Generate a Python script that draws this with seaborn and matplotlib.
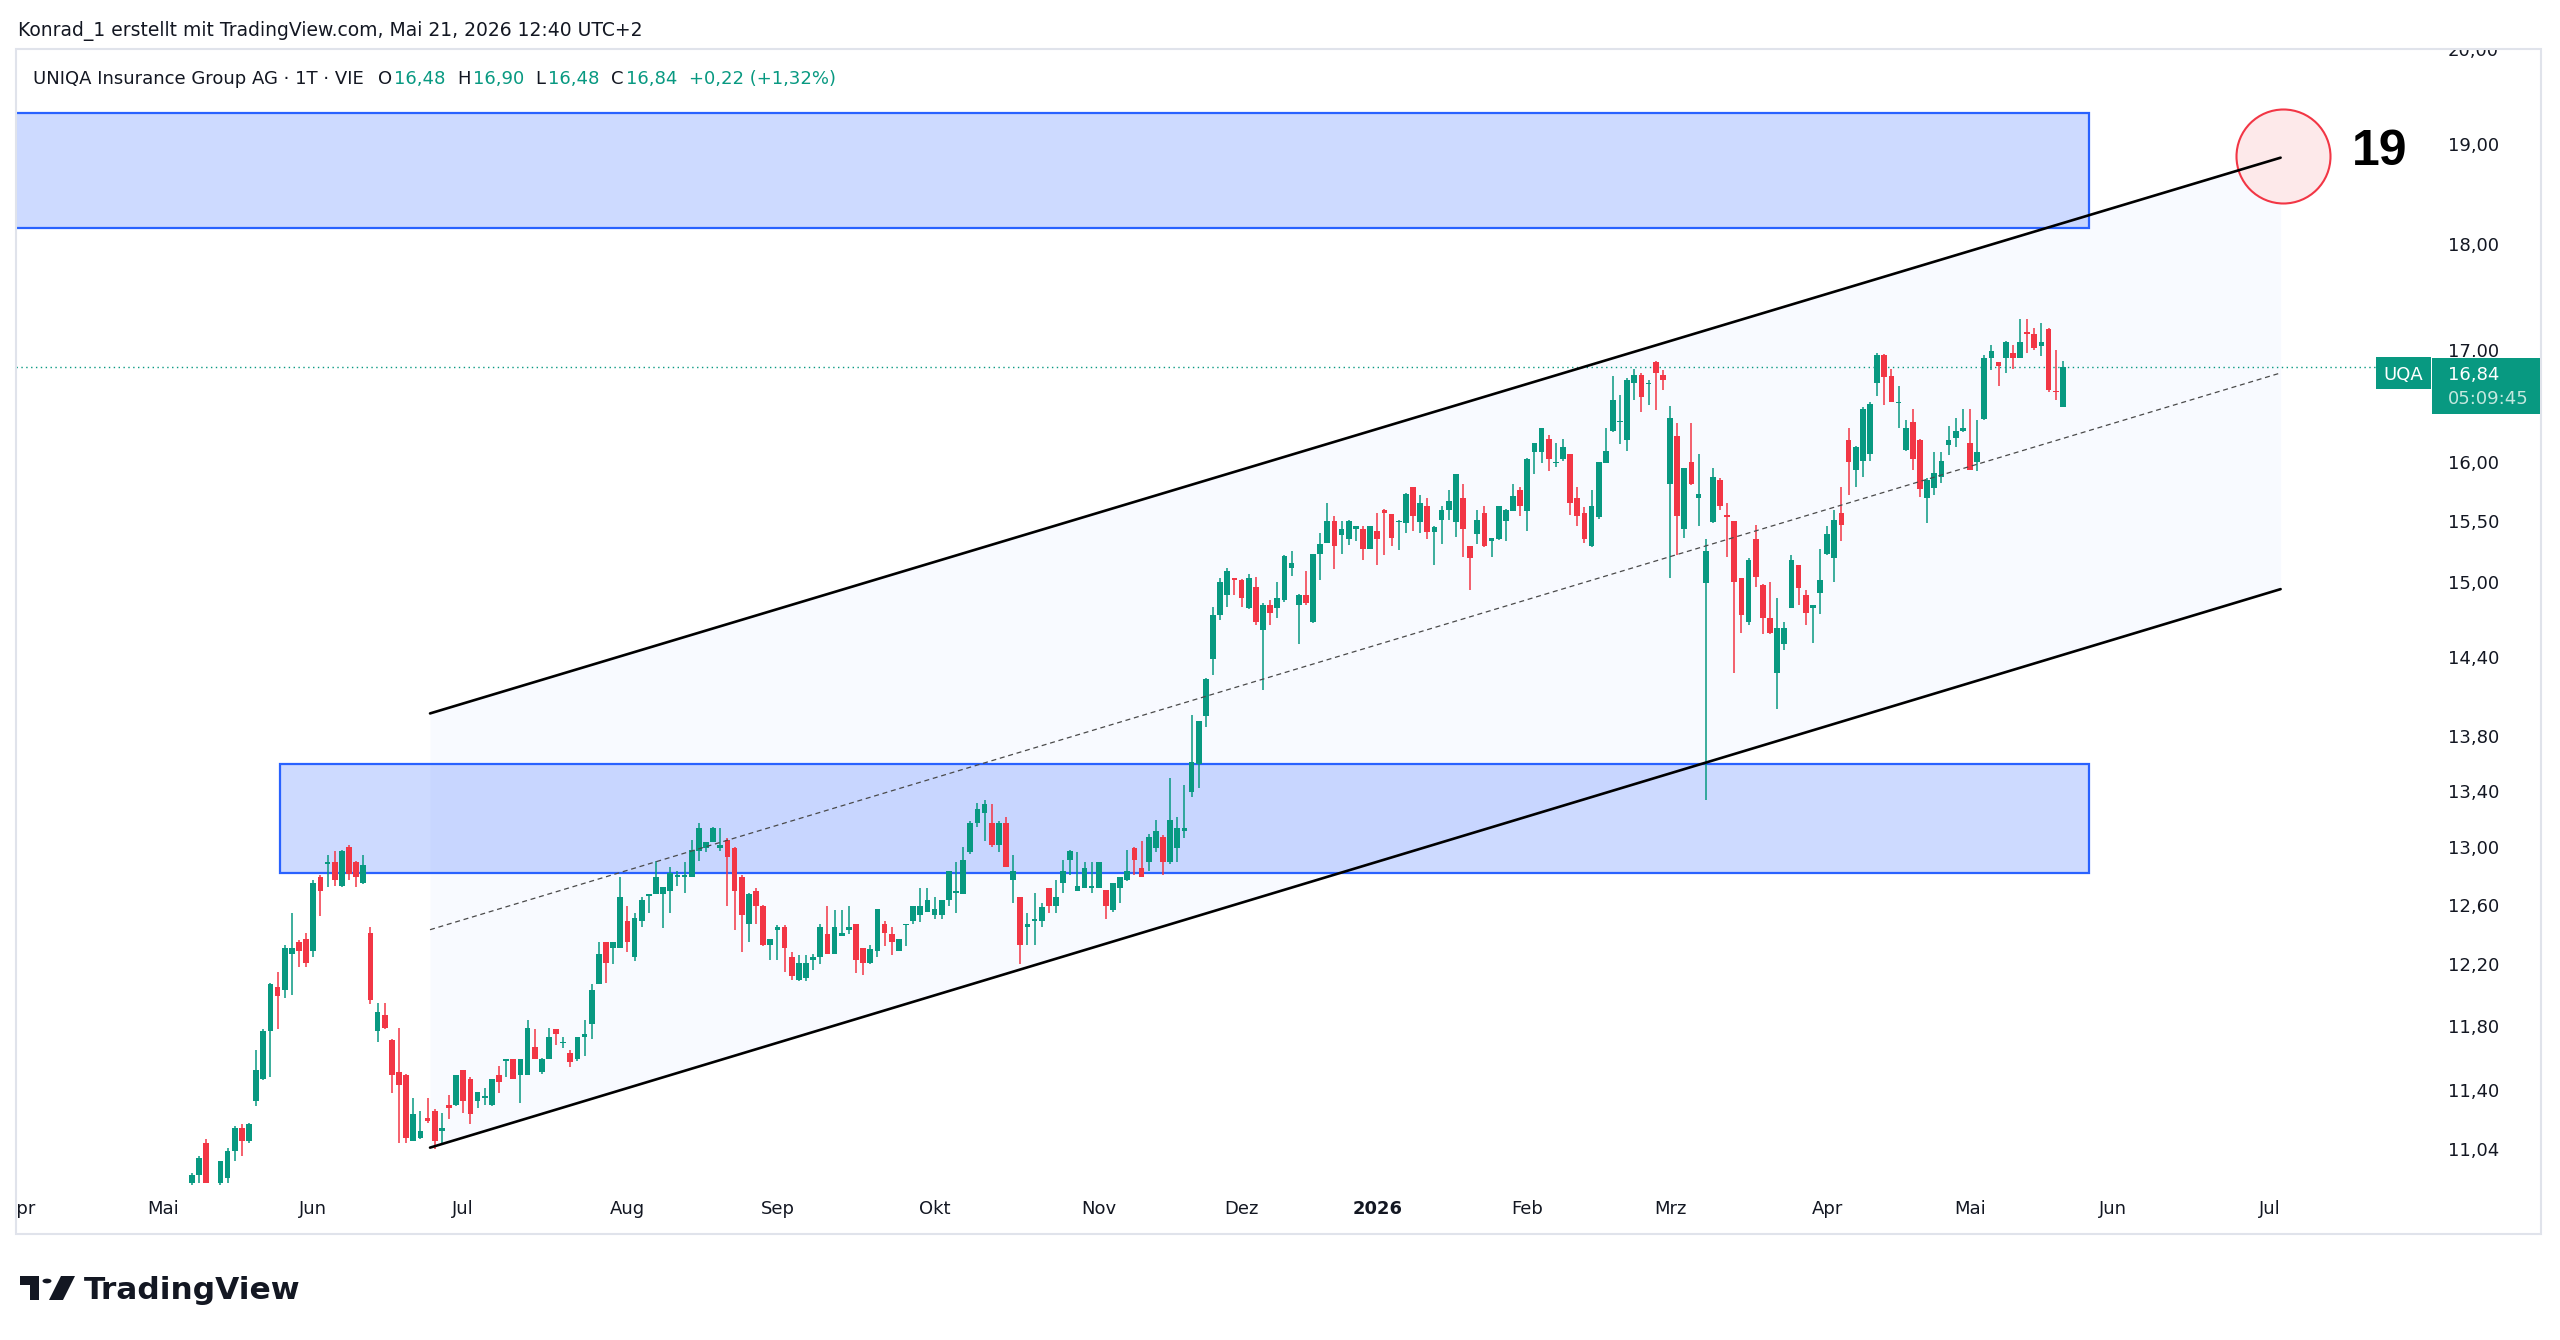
import numpy as np
import pandas as pd
import matplotlib
matplotlib.use('Agg')
import matplotlib.pyplot as plt
from matplotlib.patches import Rectangle, Polygon, Circle
from matplotlib.transforms import Bbox
import seaborn as sns

nan = np.nan

# Handelskalender Wiener Börse (Tage ohne Handel)
holidays = ['2025-04-18', '2025-04-21', '2025-05-01', '2025-12-24', '2025-12-25',
            '2025-12-26', '2025-12-31', '2026-01-01', '2026-04-03', '2026-04-06',
            '2026-05-01']
first_candle = '2025-05-08'
month_names = ['Jan', 'Feb', 'Mrz', 'Apr', 'Mai', 'Jun', 'Jul', 'Aug', 'Sep', 'Okt', 'Nov', 'Dez']

opens = [
    10.84, 10.89, 11.08, nan, 10.84, 10.87, 11.03, 11.17, 11.09,
    11.33, 11.47, 11.77, 12.05, 12.03, 12.27, 12.35, 12.37, 12.29, 12.79,
    12.88, 12.89, 12.73, 13.00, 12.89, 12.75, 12.41, 11.77, 11.87, 11.71,
    11.51, 11.49, 11.09, 11.11, 11.23, 11.27, 11.15, 11.31, 11.31, 11.52,
    11.47, 11.33, 11.35, 11.31, 11.49, 11.58, 11.59, 11.49, 11.49, 11.67,
    11.51, 11.59, 11.78, 11.69, 11.63, 11.59, 11.73, 11.81, 12.07, 12.35,
    12.31, 12.31, 12.49, 12.25, 12.49, 12.66, 12.67, 12.67, 12.69, 12.79,
    12.79, 12.79, 12.97, 12.99, 13.03, 12.99, 13.05, 12.99, 12.79, 12.47,
    12.69, 12.59, 12.33, 12.43, 12.45, 12.25, 12.10, 12.11, 12.23, 12.25,
    12.40, 12.27, 12.39, 12.43, 12.47, 12.31, 12.21, 12.29, 12.47, 12.40,
    12.29, 12.46, 12.49, 12.53, 12.55, 12.53, 12.53, 12.63, 12.68, 12.67,
    12.96, 13.17, 13.24, 13.17, 13.01, 13.17, 12.77, 12.65, 12.45, 12.49,
    12.49, 12.71, 12.59, 12.75, 12.91, 12.69, 12.71, 12.71, 12.71, 12.70,
    12.56, 12.71, 12.77, 12.99, 12.85, 12.89, 12.99, 13.07, 12.89, 12.99,
    13.11, 13.39, 13.59, 13.95, 14.39, 14.73, 14.89, 15.03, 15.01, 14.79,
    14.96, 14.61, 14.81, 14.79, 14.85, 15.11, 14.81, 14.89, 14.68, 15.23,
    15.32, 15.50, 15.38, 15.35, 15.43, 15.43, 15.27, 15.42, 15.59, 15.56,
    15.49, 15.48, 15.79, 15.49, 15.63, 15.41, 15.51, 15.59, 15.49, 15.69,
    15.29, 15.39, 15.57, 15.33, 15.35, 15.50, 15.58, 15.76, 15.58, 16.09,
    16.09, 16.20, 15.99, 16.03, 16.07, 15.69, 15.57, 15.29, 15.53, 15.99,
    16.27, 16.35, 16.19, 16.70, 16.77, 16.69, 16.89, 16.77, 15.81, 16.23,
    15.43, 16.00, 15.69, 14.99, 15.49, 15.85, 15.55, 15.50, 15.03, 14.68,
    15.35, 14.97, 14.71, 14.28, 14.50, 14.79, 15.14, 14.89, 14.79, 14.91,
    15.23, 15.19, 15.57, 16.19, 15.93, 16.01, 16.07, 16.70, 16.95, 16.76,
    16.52, 16.11, 16.35, 16.19, 15.69, 15.78, 15.87, 16.15, 16.21, 16.27,
    16.17, 16.00, 16.38, 16.93, 16.89, 16.93, 16.97, 16.93, 17.17, 17.15,
    17.04, 17.19, 16.63, 16.48,
]
highs = [
    10.90, 11.00, 11.10, nan, 10.97, 11.05, 11.18, 11.19, 11.20,
    11.65, 11.78, 12.08, 12.15, 12.33, 12.54, 12.36, 12.41, 12.77, 12.80,
    12.94, 12.97, 12.98, 13.01, 12.90, 12.94, 12.45, 11.95, 11.95, 11.72,
    11.79, 11.50, 11.35, 11.27, 11.35, 11.28, 11.26, 11.37, 11.49, 11.52,
    11.48, 11.39, 11.41, 11.47, 11.55, 11.59, 11.59, 11.59, 11.84, 11.78,
    11.60, 11.79, 11.78, 11.73, 11.65, 11.73, 11.84, 12.07, 12.35, 12.35,
    12.35, 12.79, 12.59, 12.54, 12.65, 12.67, 12.90, 12.72, 12.86, 12.83,
    12.89, 13.05, 13.17, 13.03, 13.14, 13.13, 13.06, 13.00, 12.80, 12.68,
    12.71, 12.60, 12.37, 12.46, 12.46, 12.28, 12.26, 12.26, 12.27, 12.47,
    12.59, 12.56, 12.56, 12.59, 12.47, 12.31, 12.33, 12.57, 12.49, 12.45,
    12.37, 12.47, 12.59, 12.71, 12.71, 12.65, 12.63, 12.83, 12.89, 13.00,
    13.18, 13.31, 13.33, 13.30, 13.18, 13.21, 12.94, 12.65, 12.54, 12.68,
    12.61, 12.71, 12.77, 12.91, 12.98, 12.96, 12.89, 12.89, 12.89, 12.70,
    12.75, 12.79, 12.98, 13.00, 13.04, 13.09, 13.19, 13.08, 13.49, 13.21,
    13.44, 13.96, 13.91, 14.24, 14.80, 15.03, 15.11, 15.03, 15.02, 15.06,
    15.04, 14.83, 14.85, 15.00, 15.22, 15.25, 14.90, 15.09, 15.23, 15.40,
    15.65, 15.54, 15.50, 15.51, 15.46, 15.46, 15.46, 15.57, 15.60, 15.56,
    15.51, 15.74, 15.79, 15.72, 15.69, 15.46, 15.63, 15.76, 15.90, 15.81,
    15.29, 15.59, 15.63, 15.36, 15.63, 15.60, 15.81, 15.79, 16.04, 16.17,
    16.30, 16.24, 16.17, 16.20, 16.07, 15.79, 15.62, 15.76, 16.00, 16.30,
    16.76, 16.59, 16.74, 16.83, 16.79, 16.73, 16.90, 16.82, 16.49, 16.34,
    15.95, 16.34, 16.07, 15.35, 15.95, 15.86, 15.65, 15.50, 15.03, 15.19,
    15.47, 14.98, 15.00, 14.87, 14.68, 15.22, 15.14, 14.93, 14.81, 15.27,
    15.46, 15.59, 15.79, 16.30, 16.14, 16.48, 16.53, 16.97, 16.96, 16.83,
    16.67, 16.37, 16.47, 16.20, 15.86, 16.09, 16.09, 16.32, 16.39, 16.47,
    16.47, 16.37, 16.95, 17.05, 16.89, 17.08, 17.05, 17.29, 17.29, 17.20,
    17.25, 17.20, 17.00, 16.90,
]
lows = [
    10.83, 10.84, 10.84, nan, 10.83, 10.84, 10.97, 11.00, 11.08,
    11.30, 11.46, 11.48, 11.78, 11.98, 12.00, 12.18, 12.18, 12.25, 12.52,
    12.72, 12.73, 12.72, 12.77, 12.72, 12.74, 11.94, 11.70, 11.78, 11.38,
    11.08, 11.08, 11.09, 11.10, 11.20, 11.04, 11.08, 11.22, 11.30, 11.26,
    11.19, 11.29, 11.31, 11.30, 11.38, 11.48, 11.47, 11.32, 11.49, 11.59,
    11.50, 11.59, 11.68, 11.66, 11.54, 11.58, 11.61, 11.72, 12.07, 12.08,
    12.20, 12.31, 12.28, 12.22, 12.45, 12.54, 12.67, 12.44, 12.54, 12.73,
    12.68, 12.79, 12.90, 12.96, 13.03, 12.97, 12.59, 12.43, 12.28, 12.35,
    12.47, 12.32, 12.23, 12.23, 12.15, 12.10, 12.09, 12.09, 12.16, 12.20,
    12.27, 12.27, 12.39, 12.40, 12.14, 12.13, 12.20, 12.25, 12.32, 12.26,
    12.29, 12.32, 12.47, 12.48, 12.55, 12.50, 12.50, 12.59, 12.54, 12.67,
    12.95, 13.14, 13.04, 13.00, 12.96, 12.86, 12.61, 12.20, 12.33, 12.33,
    12.45, 12.54, 12.54, 12.68, 12.80, 12.69, 12.71, 12.68, 12.71, 12.50,
    12.55, 12.61, 12.76, 12.80, 12.79, 12.83, 12.96, 12.80, 12.88, 12.89,
    13.06, 13.35, 13.42, 13.87, 14.26, 14.69, 14.80, 14.89, 14.80, 14.78,
    14.65, 14.15, 14.65, 14.71, 14.84, 15.05, 14.50, 14.81, 14.67, 15.01,
    15.32, 15.10, 15.23, 15.30, 15.33, 15.18, 15.27, 15.14, 15.22, 15.29,
    15.26, 15.40, 15.42, 15.40, 15.35, 15.14, 15.31, 15.51, 15.37, 15.20,
    14.93, 15.31, 15.28, 15.20, 15.34, 15.33, 15.58, 15.54, 15.42, 15.90,
    15.99, 15.92, 15.96, 16.01, 15.55, 15.46, 15.32, 15.28, 15.52, 15.99,
    16.26, 16.16, 16.10, 16.55, 16.44, 16.50, 16.46, 16.64, 15.03, 15.22,
    15.36, 15.80, 15.46, 13.33, 15.48, 15.59, 15.20, 14.28, 14.59, 14.65,
    14.96, 14.58, 14.58, 14.00, 14.46, 14.79, 14.81, 14.65, 14.51, 14.74,
    15.22, 15.00, 15.33, 15.72, 15.79, 15.87, 16.01, 16.58, 16.50, 16.53,
    16.30, 16.10, 15.93, 15.70, 15.48, 15.72, 15.82, 16.06, 16.13, 16.26,
    15.93, 15.92, 16.37, 16.82, 16.67, 16.79, 16.83, 16.93, 16.97, 17.00,
    16.94, 16.62, 16.55, 16.48,
]
closes = [
    10.89, 10.99, 10.84, nan, 10.97, 11.03, 11.17, 11.09, 11.19,
    11.52, 11.77, 12.07, 11.99, 12.31, 12.31, 12.29, 12.21, 12.75, 12.69,
    12.89, 12.77, 12.97, 12.81, 12.79, 12.87, 11.97, 11.89, 11.79, 11.49,
    11.43, 11.11, 11.25, 11.15, 11.21, 11.09, 11.17, 11.29, 11.49, 11.33,
    11.25, 11.39, 11.36, 11.47, 11.45, 11.59, 11.47, 11.59, 11.79, 11.59,
    11.59, 11.73, 11.75, 11.70, 11.57, 11.73, 11.75, 12.03, 12.27, 12.21,
    12.35, 12.65, 12.35, 12.51, 12.63, 12.67, 12.79, 12.72, 12.82, 12.80,
    12.80, 12.98, 13.13, 13.03, 13.13, 13.01, 12.93, 12.69, 12.53, 12.67,
    12.59, 12.33, 12.37, 12.45, 12.31, 12.12, 12.21, 12.21, 12.25, 12.45,
    12.27, 12.45, 12.41, 12.45, 12.23, 12.21, 12.30, 12.57, 12.41, 12.35,
    12.37, 12.47, 12.59, 12.59, 12.63, 12.57, 12.63, 12.83, 12.69, 12.91,
    13.17, 13.27, 13.30, 13.01, 13.17, 12.86, 12.83, 12.33, 12.47, 12.50,
    12.58, 12.59, 12.65, 12.83, 12.97, 12.73, 12.85, 12.73, 12.89, 12.59,
    12.75, 12.79, 12.83, 12.91, 12.79, 13.07, 13.11, 12.89, 13.19, 13.13,
    13.13, 13.61, 13.91, 14.23, 14.73, 15.00, 15.09, 15.01, 14.87, 15.03,
    14.68, 14.81, 14.75, 14.87, 15.21, 15.15, 14.89, 14.83, 15.23, 15.31,
    15.50, 15.29, 15.43, 15.50, 15.46, 15.27, 15.46, 15.35, 15.57, 15.36,
    15.50, 15.73, 15.54, 15.65, 15.41, 15.45, 15.59, 15.67, 15.90, 15.43,
    15.19, 15.51, 15.29, 15.36, 15.63, 15.59, 15.71, 15.63, 16.03, 16.17,
    16.30, 16.03, 16.00, 16.13, 15.65, 15.54, 15.35, 15.63, 16.00, 16.10,
    16.55, 16.36, 16.73, 16.77, 16.57, 16.70, 16.79, 16.73, 16.39, 15.54,
    15.95, 15.81, 15.73, 15.25, 15.87, 15.63, 15.53, 15.00, 14.73, 15.18,
    15.04, 14.71, 14.59, 14.63, 14.63, 15.18, 14.95, 14.75, 14.81, 15.01,
    15.39, 15.51, 15.47, 16.00, 16.13, 16.47, 16.51, 16.95, 16.75, 16.53,
    16.53, 16.30, 16.03, 15.77, 15.85, 15.91, 16.01, 16.19, 16.27, 16.30,
    15.93, 16.09, 16.93, 16.99, 16.85, 17.07, 16.93, 17.07, 17.15, 17.02,
    17.07, 16.64, 16.62, 16.84,
]

# Zeichnungen: Kanal (Bar-Position, Kurs), Zonen, Kursziel
channel_x = [57.35, 316.5]
channel_upper = [13.97, 18.86]
channel_mid = [12.43, 16.79]
channel_lower = [11.05, 14.94]
zone_top = {'x0': -1.0, 'x1': 289.6, 'lo': 18.16, 'hi': 19.32}
zone_bottom = {'x0': 36.4, 'x1': 289.6, 'lo': 12.82, 'hi': 13.59}
target_x, target_price, target_label = 316.9, 18.88, '19'
last_close = 16.84
y_ticks = [11.04, 11.40, 11.80, 12.20, 12.60, 13.00, 13.40, 13.80, 14.40, 15.00,
           15.50, 16.00, 16.50, 17.00, 18.00, 19.00, 20.00]

GREEN = '#089981'
RED = '#f23645'
DARK = '#131722'
BLUE = '#2962ff'

W, H = 2560, 1340
sns.set_theme(style='white')
plt.rcParams['font.family'] = ['DejaVu Sans']


def fx(px):
    return px / W


def fy(py):
    return 1 - py / H


fig = plt.figure(figsize=(W / 100, H / 100), dpi=100)
fig.patch.set_facecolor('white')
ax = fig.add_axes([fx(16), fy(1190), fx(2432) - fx(16), fy(49) - fy(1190)])
ax.set_facecolor('white')
ax.set_yscale('log')

# Kalender -> Bar-Index
cal = pd.bdate_range('2025-04-01', '2026-07-31')
cal = cal[~cal.isin(pd.to_datetime(holidays))]
pos = pd.Series(np.arange(len(cal)), index=cal)
candle_dates = cal[cal >= pd.Timestamp(first_candle)][:len(opens)]

df = pd.DataFrame({'x': pos[candle_dates].values, 'open': opens, 'high': highs,
                   'low': lows, 'close': closes}).dropna()
col = np.where(df['close'] >= df['open'], GREEN, RED)
body_lo = df[['open', 'close']].min(axis=1)
body_hi = df[['open', 'close']].max(axis=1)
ax.vlines(df['x'], df['low'], df['high'], colors=col, linewidth=1.1, zorder=3)
ax.bar(df['x'], body_hi - body_lo, bottom=body_lo, width=0.8, color=col,
       linewidth=0, zorder=4)

# Kanal
ax.fill_between(channel_x, channel_lower, channel_upper, color=BLUE, alpha=0.03,
                linewidth=0, zorder=0.5)
for zone in (zone_top, zone_bottom):
    ax.add_patch(Rectangle((zone['x0'], zone['lo']), zone['x1'] - zone['x0'],
                           zone['hi'] - zone['lo'], facecolor=(41/255, 98/255, 1, 0.23),
                           edgecolor=BLUE, linewidth=1.6, zorder=1))
sns.lineplot(x=channel_x, y=channel_upper, ax=ax, color='black', linewidth=1.9, zorder=6)
sns.lineplot(x=channel_x, y=channel_lower, ax=ax, color='black', linewidth=1.9, zorder=6)
sns.lineplot(x=channel_x, y=channel_mid, ax=ax, color='#4a4a4a', linewidth=0.9,
             linestyle=(0, (4, 3)), zorder=6)
ax.scatter([target_x], [target_price], s=4580, facecolor='#fde9ea', edgecolor=RED,
           linewidth=1.5, zorder=5)
ax.axhline(last_close, color=GREEN, linewidth=1.0, linestyle=(0, (1, 2.5)), zorder=2)

ax.set_xlim(-0.63, 337.7)
ax.set_ylim(10.80, 20.0)
for s in ax.spines.values():
    s.set_visible(False)
ax.grid(False)
ax.set_xlabel('')
ax.set_ylabel('')

# Achsen
ax.yaxis.tick_right()
ax.yaxis.set_minor_locator(matplotlib.ticker.NullLocator())
ax.set_yticks(y_ticks)
ax.set_yticklabels([f'{v:.2f}'.replace('.', ',') for v in y_ticks])
ax.tick_params(axis='y', length=0, pad=11.5, labelsize=13, labelcolor=DARK)

month_first = pos.groupby([pos.index.year, pos.index.month]).min()
xt, xl = [], []
for (yr, mo), p in month_first.items():
    xt.append(p)
    xl.append(str(yr) if mo == 1 else month_names[mo - 1])
ax.set_xticks(xt)
ax.set_xticklabels(xl)
ax.tick_params(axis='x', length=0, pad=7, labelsize=13, labelcolor=DARK)

# Beschriftungen am Rahmen abschneiden; die Kursmarke verdeckt 17,00 und 16,50 teilweise
frame_box = Bbox.from_extents(16, H - 1234, 2541, H - 49)
for lbl in ax.get_xticklabels() + ax.get_yticklabels():
    lbl.set_clip_on(True)
    if lbl.get_text() == '17,00':
        lbl.set_clip_box(Bbox.from_extents(16, H - 357, 2541, H - 49))
    elif lbl.get_text() == '16,50':
        lbl.set_clip_box(Bbox.from_extents(16, H - 1234, 2541, H - 415))
    else:
        lbl.set_clip_box(frame_box)
    if lbl.get_text() == '2026':
        lbl.set_fontweight('bold')

# Rahmen
fig.add_artist(Rectangle((fx(16), fy(1234)), fx(2541) - fx(16), fy(49) - fy(1234),
                         transform=fig.transFigure, fill=False, edgecolor='#e0e3eb',
                         linewidth=1.5, zorder=1))

# Kopfzeile und Legende
fig.text(fx(18), fy(36), 'Konrad_1 erstellt mit TradingView.com, Mai 21, 2026 12:40 UTC+2',
         fontsize=13.5, color=DARK, va='baseline')
segs = [('O', DARK, 10), ('16,48', GREEN, 1.5), ('H', DARK, 8.5), ('16,90', GREEN, 1.5),
        ('L', DARK, 8.5), ('16,48', GREEN, 1.5), ('C', DARK, 8.5), ('16,84', GREEN, 1.5),
        ('+0,22 (+1,32%)', GREEN, 8.5)]
prev = fig.text(fx(33), fy(84), 'UNIQA Insurance Group AG · 1T · VIE', fontsize=13,
                color=DARK, va='baseline')
for txt, c, gap in segs:
    prev = ax.annotate(txt, xy=(1, 0), xycoords=prev, xytext=(gap, 0),
                       textcoords='offset points', fontsize=13, color=c,
                       va='bottom', ha='left', annotation_clip=False)

# Kursziel-Beschriftung
fig.text(fx(2380), fy(165), target_label, fontsize=36, fontweight='bold',
         family=['Liberation Sans', 'DejaVu Sans'], ha='center', va='baseline', color='black')

# Kursmarke rechts
fig.add_artist(Rectangle((fx(2376), fy(389)), fx(2431) - fx(2376), fy(357) - fy(389),
                         transform=fig.transFigure, facecolor=GREEN, edgecolor='none', zorder=5))
fig.add_artist(Rectangle((fx(2432), fy(414)), fx(2540) - fx(2432), fy(358) - fy(414),
                         transform=fig.transFigure, facecolor=GREEN, edgecolor='none', zorder=5))
fig.text(fx(2403.5), fy(380), 'UQA', fontsize=13, color='white', ha='center',
         va='baseline', zorder=6)
fig.text(fx(2448), fy(380), '16,84', fontsize=13, color='white', va='baseline', zorder=6)
fig.text(fx(2448), fy(404), '05:09:45', fontsize=13, color='#c4e8df', va='baseline', zorder=6)

# TradingView-Logo
logo_kw = dict(transform=fig.transFigure, facecolor='#131722', edgecolor='none')
fig.add_artist(Polygon([(fx(20), fy(1276)), (fx(39), fy(1276)), (fx(39), fy(1300)),
                        (fx(30), fy(1300)), (fx(30), fy(1285)), (fx(20), fy(1285))], **logo_kw))
fig.add_artist(Circle((fx(47), fy(1281)), 4.5 / W, **logo_kw))
fig.add_artist(Polygon([(fx(61), fy(1276)), (fx(75), fy(1276)), (fx(63), fy(1300)),
                        (fx(49), fy(1300))], **logo_kw))
fig.text(fx(84), fy(1299), 'TradingView', fontsize=22.5, fontweight='bold',
         color='#131722', va='baseline')

fig.savefig('out.png', dpi=100, facecolor='white')
